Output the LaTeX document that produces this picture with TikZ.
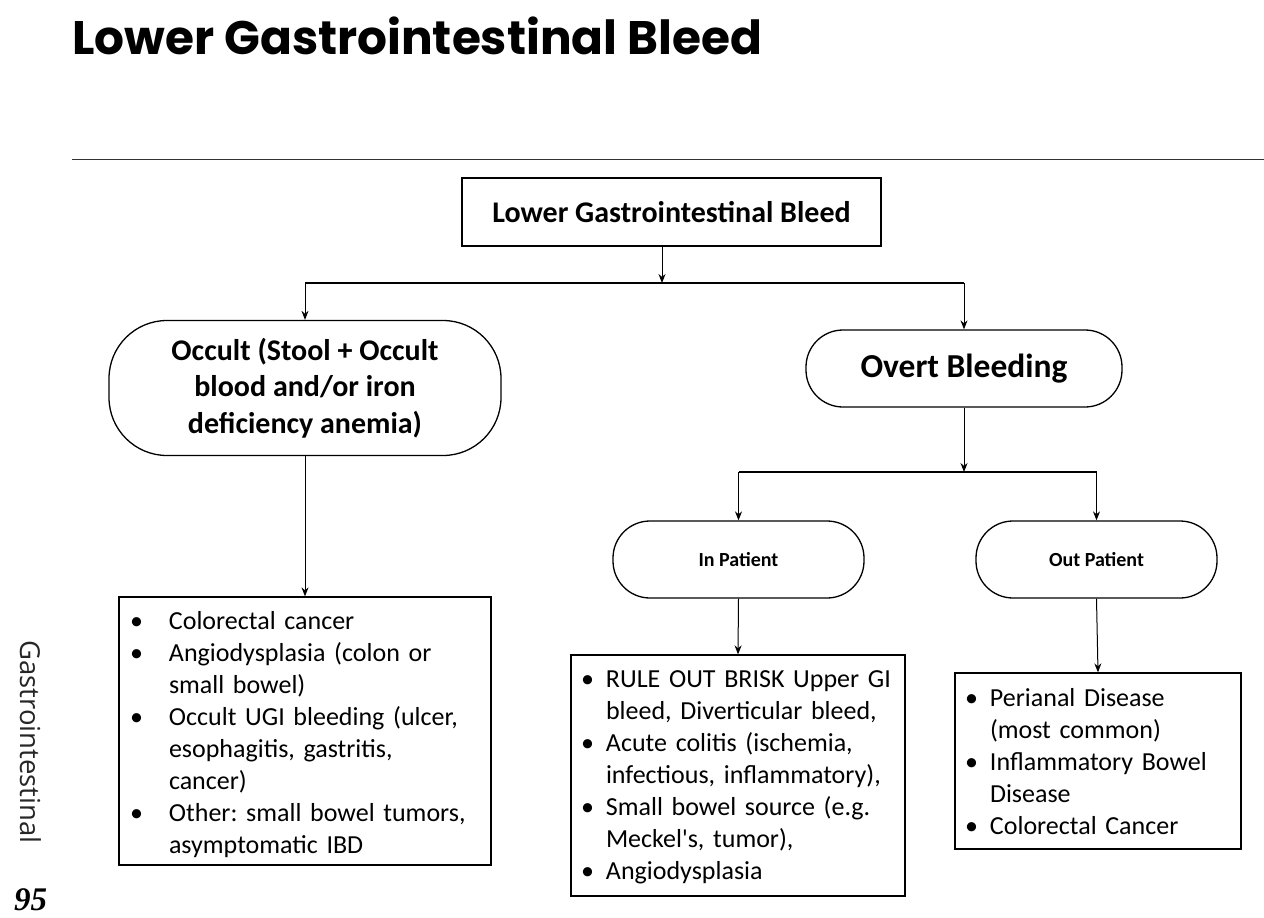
\documentclass[tikz,border=0pt]{standalone}
\usepackage{fontspec}
\setmainfont{Carlito}
\newfontfamily\titlefont{Poppins}
\newfontfamily\sidefont{Open Sans}
\newfontfamily\pagefont{Liberation Serif}
\usetikzlibrary{arrows.meta,positioning}
\newcommand{\li}[2]{\par\hangindent=#2\hangafter=1\noindent\hbox to #2{\hspace{#1}\textbullet\hfil}}
\newcommand{\listend}[1]{\par\hrule height #1 width 0pt}

\tikzset{
  arr/.style={-{Stealth[length=9pt,width=7pt]}},
  headbox/.style={draw, line width=1.3pt, minimum width=419pt, minimum height=68pt, inner sep=0pt,
    font=\bfseries\fontsize{30}{36}\selectfont},
  roundbox/.style={draw, line width=1.3pt, inner sep=0pt, align=center, font=\bfseries},
  listbox/.style={draw, line width=1.3pt, inner xsep=10pt, inner ysep=0pt, align=left,
    font=\frenchspacing\fontsize{26}{32}\selectfont},
}

\begin{document}
\begin{tikzpicture}[x=1pt,y=-1pt]
\useasboundingbox (0,0) rectangle (1264,918);

% page head
\node (title) [anchor=base west, inner sep=0pt, font=\titlefont\bfseries\fontsize{47}{50}\selectfont]
  at (72,54) {Lower Gastrointestinal Bleed};
\draw [line width=1pt, black!80] (72,159) -- (1264,159);
\node (side) [rotate=-90, anchor=north west, inner sep=0pt, text=black!85,
  font=\sidefont\fontsize{27.5}{30}\selectfont] at (42,640) {Gastrointestinal};
\node (page) [anchor=base west, inner sep=0pt, font=\pagefont\bfseries\itshape\fontsize{33}{36}\selectfont]
  at (14,910) {95};

% boxes
\node (lgib) [headbox] at (671.5,212) {Lower Gastrointestinal Bleed};
\node (occult) [roundbox, rounded corners=58pt, minimum width=392pt, minimum height=135pt,
  font=\bfseries\fontsize{30}{36.5}\selectfont] at (305,388)
  {Occult (Stool + Occult\\blood and/or iron\\deficiency anemia)};
\node (overt) [roundbox, rounded corners=37pt, minimum width=316pt, minimum height=77pt,
  font=\bfseries\fontsize{33.5}{38}\selectfont] at (964,368.5) {Overt Bleeding};
\node (inpat) [roundbox, rounded corners=37pt, minimum width=251pt, minimum height=77pt,
  font=\bfseries\fontsize{20}{24}\selectfont] at (738.5,559.5) {In Patient};
\node (outpat) [roundbox, rounded corners=37pt, minimum width=241pt, minimum height=77pt,
  font=\bfseries\fontsize{20}{24}\selectfont] at (1096.5,559.5) {Out Patient};

\node (occlist) [listbox, text width=352pt, minimum height=268pt] at (305,731) {%
  \li{1pt}{40pt}Colorectal cancer
  \li{1pt}{40pt}Angiodysplasia (colon or\newline small bowel)
  \li{1pt}{40pt}Occult UGI bleeding (ulcer,\newline esophagitis, gastritis,\newline cancer)
  \li{1pt}{40pt}Other: small bowel tumors,\newline asymptomatic IBD\listend{7pt}};
\node (inlist) [listbox, text width=314pt, minimum height=241pt] at (738,775.5) {%
  \li{0pt}{25pt}RULE OUT BRISK Upper GI\newline bleed, Diverticular bleed,
  \li{0pt}{25pt}Acute colitis (ischemia,\newline infectious, inflammatory),
  \li{0pt}{25pt}Small bowel source (e.g.\newline Meckel\textquotesingle s, tumor),
  \li{0pt}{25pt}Angiodysplasia\listend{11pt}};
\node (outlist) [listbox, text width=266pt, minimum height=176pt] at (1098,761) {%
  \li{0pt}{25pt}Perianal Disease\newline (most common)
  \li{0pt}{25pt}Inflammatory Bowel\newline Disease
  \li{0pt}{25pt}Colorectal Cancer\listend{12pt}};

% connectors
\coordinate (split1) at (662,283);
\coordinate (split2) at (964,472);
\draw [arr, line width=1pt] (lgib.south -| split1) -- (split1);
\draw [line width=1.3pt] (occult.north |- split1) -- (overt.north |- split1);
\draw [arr, line width=1pt] (occult.north |- split1) -- (occult.north);
\draw [arr, line width=1pt] (overt.north |- split1) -- (overt.north);
\draw [arr, line width=1pt] (overt.south) -- (split2);
\draw [line width=1.3pt] (inpat.north |- split2) -- (outpat.north |- split2);
\draw [arr, line width=1pt] (inpat.north |- split2) -- (inpat.north);
\draw [arr, line width=1pt] (outpat.north |- split2) -- (outpat.north);
\draw [arr, line width=1pt] (occult.south) -- (occlist.north);
\draw [arr, line width=1pt] (inpat.south) -- (inlist.north);
\draw [arr, line width=1pt] (outpat.south) -- (outlist.north);

\end{tikzpicture}
\end{document}
